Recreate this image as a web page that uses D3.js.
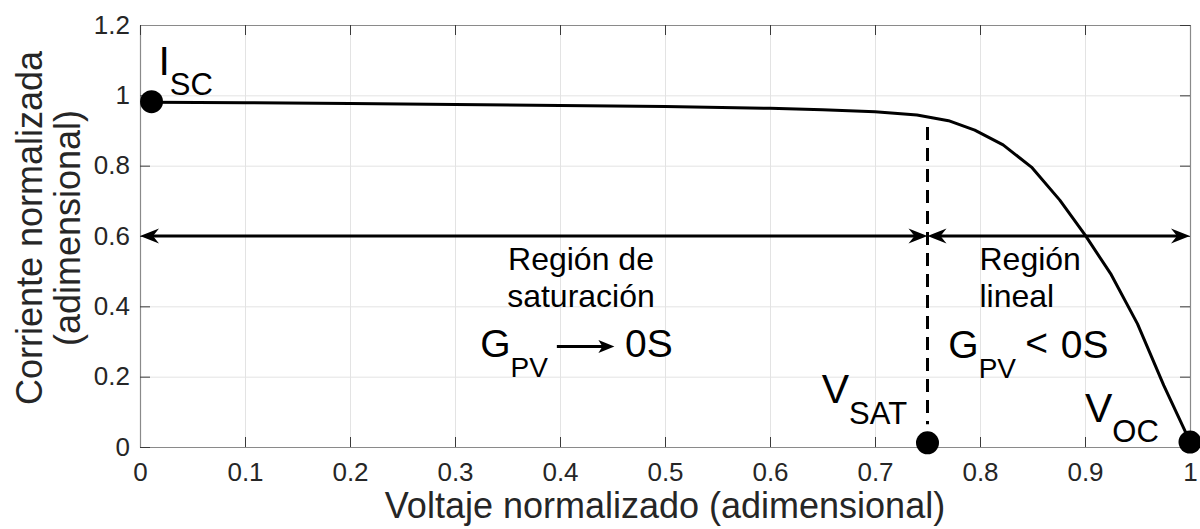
<!DOCTYPE html>
<html>
<head>
<meta charset="utf-8">
<script src="https://cdn.jsdelivr.net/npm/d3@7"></script>
<style>
  body { margin: 0; background: #fff; }
  svg { font-family: "Liberation Sans", Arial, sans-serif; }
  .grid line { stroke: #e3e3e3; stroke-width: 1; }
  .grid path { display: none; }
  .axis path { stroke: #8a8a8a; stroke-width: 1.2; }
  .axis line { stroke: #3a3a3a; stroke-width: 1; }
  .axis text { fill: #262626; font-size: 26px; font-family: "Liberation Sans", Arial, sans-serif; }
</style>
</head>
<body>
<svg id="chart" width="1200" height="529"></svg>
<script>
// I-V curve (normalized)
const voltage = [0.01, 0.1, 0.2, 0.3, 0.4, 0.5, 0.6, 0.65, 0.7, 0.74, 0.77, 0.795, 0.822, 0.849, 0.876, 0.9, 0.925, 0.95, 0.975, 1.0];
const current = [0.98, 0.979, 0.977, 0.974, 0.971, 0.968, 0.963, 0.959, 0.953, 0.944, 0.928, 0.901, 0.859, 0.796, 0.702, 0.603, 0.49, 0.35, 0.175, 0.015];

// marked points: Isc, Vsat, Voc
const pointV = [0.011, 0.75, 1.0];
const pointI = [0.982, 0.012, 0.014];

const xTicks = [0, 0.1, 0.2, 0.3, 0.4, 0.5, 0.6, 0.7, 0.8, 0.9, 1];
const yTicks = [0, 0.2, 0.4, 0.6, 0.8, 1, 1.2];

const vSat = 0.75;
const regionLevel = 0.6;

const margin = { top: 25, right: 10, bottom: 82, left: 140 };
const W = 1200, H = 529;
const width = W - margin.left - margin.right;
const height = H - margin.top - margin.bottom;

const svg = d3.select("#chart");

// arrow heads
const defs = svg.append("defs");
defs.append("marker")
    .attr("id", "head")
    .attr("viewBox", "-24 -12 36 24")
    .attr("markerUnits", "userSpaceOnUse")
    .attr("markerWidth", 36)
    .attr("markerHeight", 24)
    .attr("refX", 0)
    .attr("refY", 0)
    .attr("orient", "auto-start-reverse")
  .append("path")
    .attr("d", "M6,0 L-13,-7.5 L-7,0 L-13,7.5 Z")
    .attr("fill", "#000");
defs.append("marker")
    .attr("id", "texhead")
    .attr("viewBox", "-20 -10 30 20")
    .attr("markerUnits", "userSpaceOnUse")
    .attr("markerWidth", 30)
    .attr("markerHeight", 20)
    .attr("refX", 0)
    .attr("refY", 0)
    .attr("orient", "auto")
  .append("path")
    .attr("d", "M4,0 L-12,-6.5 L-8,0 L-12,6.5 Z")
    .attr("fill", "#000");

const g = svg.append("g")
    .attr("transform", `translate(${margin.left}, ${margin.top})`);

const x = d3.scaleLinear().domain([0, 1]).range([0, width]);
const y = d3.scaleLinear().domain([0, 1.2]).range([height, 0]);

// grid
g.append("g").attr("class", "grid")
    .attr("transform", `translate(0, ${height})`)
    .call(d3.axisBottom(x).tickValues(xTicks).tickSize(-height).tickFormat(""));
g.append("g").attr("class", "grid")
    .call(d3.axisLeft(y).tickValues(yTicks).tickSize(-width).tickFormat(""));

// axes, ticks pointing inside (box on)
const fmt = d => String(d);
g.append("g").attr("class", "axis")
    .attr("transform", `translate(0, ${height})`)
    .call(d3.axisBottom(x).tickValues(xTicks).tickSizeInner(-10).tickSizeOuter(0).tickPadding(16).tickFormat(fmt));
g.append("g").attr("class", "axis")
    .call(d3.axisLeft(y).tickValues(yTicks).tickSizeInner(-10).tickSizeOuter(0).tickPadding(10).tickFormat(fmt));
g.append("g").attr("class", "axis")
    .call(d3.axisTop(x).tickValues(xTicks).tickSizeInner(-10).tickSizeOuter(0).tickFormat(""));
g.append("g").attr("class", "axis")
    .attr("transform", `translate(${width}, 0)`)
    .call(d3.axisRight(y).tickValues(yTicks).tickSizeInner(-10).tickSizeOuter(0).tickFormat(""));

// axis labels
svg.append("text")
    .attr("x", margin.left + width / 2)
    .attr("y", 518)
    .attr("text-anchor", "middle")
    .attr("font-size", 36)
    .attr("fill", "#262626")
    .text("Voltaje normalizado (adimensional)");

const yLab = svg.append("text")
    .attr("transform", "translate(42, 228) rotate(-90)")
    .attr("text-anchor", "middle")
    .attr("font-size", 36)
    .attr("fill", "#262626");
yLab.append("tspan").attr("x", 0).attr("y", 0).text("Corriente normalizada");
yLab.append("tspan").attr("x", 0).attr("y", 38).text("(adimensional)");

// the curve
const pts = voltage.map((v, i) => [v, current[i]]);
g.append("path")
    .datum(pts)
    .attr("fill", "none")
    .attr("stroke", "#000")
    .attr("stroke-width", 3)
    .attr("stroke-linejoin", "round")
    .attr("d", d3.line().x(d => x(d[0])).y(d => y(d[1])));

// dashed line at Vsat
g.append("line")
    .attr("x1", x(vSat)).attr("x2", x(vSat))
    .attr("y1", y(0.91)).attr("y2", y(0.065))
    .attr("stroke", "#000")
    .attr("stroke-width", 3)
    .attr("stroke-dasharray", "13,8");

// region arrows (double headed)
const spans = [[0, vSat], [vSat, 1]];
g.selectAll(".region")
    .data(spans)
    .enter()
    .append("line")
        .attr("class", "region")
        .attr("x1", d => x(d[0]) + 6)
        .attr("x2", d => x(d[1]) - 6)
        .attr("y1", y(regionLevel))
        .attr("y2", y(regionLevel))
        .attr("stroke", "#000")
        .attr("stroke-width", 3)
        .attr("marker-start", "url(#head)")
        .attr("marker-end", "url(#head)");

// marked points
g.selectAll(".pt")
    .data(pointV.map((v, i) => [v, pointI[i]]))
    .enter()
    .append("circle")
        .attr("class", "pt")
        .attr("cx", d => x(d[0]))
        .attr("cy", d => y(d[1]))
        .attr("r", 11.5)
        .attr("fill", "#000");

// labels with subscripts
function subLabel(px, py, main, sub, mainSize, subSize, drop) {
    const t = g.append("text")
        .attr("x", px).attr("y", py)
        .attr("fill", "#000")
        .attr("font-size", mainSize);
    t.append("tspan").text(main);
    t.append("tspan").attr("dy", drop).attr("font-size", subSize).text(sub);
    return t;
}
subLabel(x(0.0175), y(1.058), "I", "SC", 41, 31, 20);
subLabel(x(0.6493), y(0.124), "V", "SAT", 41, 31, 21);
subLabel(x(0.9), y(0.072), "V", "OC", 41, 31, 20);

// region captions
const satText = g.append("text")
    .attr("text-anchor", "middle")
    .attr("font-size", 32)
    .attr("fill", "#000");
satText.append("tspan").attr("x", x(0.42)).attr("y", y(0.503)).text("Región de");
satText.append("tspan").attr("x", x(0.42)).attr("y", y(0.397)).text("saturación");

const linText = g.append("text")
    .attr("font-size", 32)
    .attr("fill", "#000");
linText.append("tspan").attr("x", x(0.7995)).attr("y", y(0.503)).text("Región");
linText.append("tspan").attr("x", x(0.7995)).attr("y", y(0.397)).text("lineal");

// G_PV -> 0S
const gy1 = y(0.257);
subLabel(x(0.324), gy1, "G", "PV", 39, 28, 20);
g.append("line")
    .attr("x1", x(0.397)).attr("x2", x(0.448))
    .attr("y1", gy1 - 10).attr("y2", gy1 - 10)
    .attr("stroke", "#000")
    .attr("stroke-width", 3)
    .attr("marker-end", "url(#texhead)");
g.append("text")
    .attr("x", x(0.462)).attr("y", gy1)
    .attr("font-size", 39)
    .attr("fill", "#000")
    .text("0S");

// G_PV < 0S
const gy2 = y(0.252);
subLabel(x(0.7698), gy2, "G", "PV", 39, 28, 20);
g.append("text")
    .attr("x", x(0.843)).attr("y", gy2 - 2)
    .attr("font-size", 39)
    .attr("fill", "#000")
    .text("<");
g.append("text")
    .attr("x", x(0.877)).attr("y", gy2)
    .attr("font-size", 39)
    .attr("fill", "#000")
    .text("0S");
</script>
</body>
</html>
